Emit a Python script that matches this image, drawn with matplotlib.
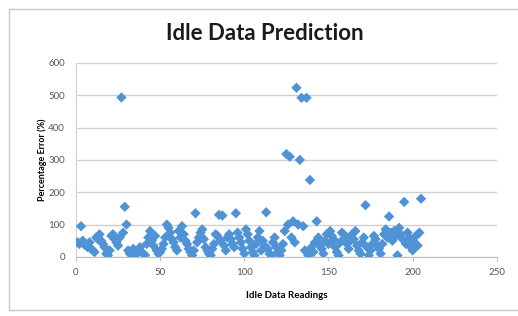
import matplotlib
matplotlib.use("Agg")
import matplotlib.pyplot as plt
from matplotlib.patches import Rectangle

# estimated readings (index -> percentage error)
readings = list(range(1, 206))
errors = [
    45, 40, 95, 50, 38, 35, 30, 45, 25, 20,
    15, 60, 55, 70, 50, 40, 30, 10, 5, 20,
    65, 70, 55, 45, 35, 60, 493, 75, 155, 100,
    20, 10, 15, 25, 5, 10, 20, 30, 15, 10,
    5, 40, 60, 80, 50, 35, 65, 20, 10, 15,
    25, 40, 60, 100, 90, 75, 55, 45, 30, 20,
    80, 60, 95, 70, 50, 40, 25, 15, 5, 20,
    135, 45, 60, 75, 85, 55, 30, 20, 10, 5,
    25, 40, 70, 65, 130, 50, 128, 35, 20, 60,
    70, 55, 40, 30, 135, 75, 60, 45, 25, 10,
    85, 70, 50, 30, 15, 5, 40, 60, 80, 20,
    50, 35, 138, 25, 10, 5, 45, 60, 30, 15,
    5, 20, 40, 80, 318, 100, 310, 60, 110, 45,
    523, 100, 300, 492, 95, 20, 492, 5, 238, 30,
    15, 45, 110, 60, 35, 25, 10, 50, 70, 40,
    80, 65, 55, 30, 15, 5, 45, 75, 70, 60,
    40, 25, 50, 70, 55, 80, 35, 20, 10, 45,
    60, 160, 30, 5, 20, 40, 65, 55, 35, 25,
    10, 40, 70, 85, 60, 125, 75, 50, 80, 65,
    5, 90, 70, 55, 170, 40, 75, 60, 30, 20,
    45, 65, 35, 75, 180,
]

x_ticks = [0, 50, 100, 150, 200, 250]
y_ticks = [0, 100, 200, 300, 400, 500, 600]

plt.rcParams['font.family'] = ['Lato', 'DejaVu Sans']

fig = plt.figure(figsize=(5.18, 3.16), dpi=100)

# chart frame like the spreadsheet chart area
fig.patches.append(Rectangle((9 / 518, 0.02), 1.2, 0.952, transform=fig.transFigure,
                             fill=False, edgecolor="#c8c8c8", linewidth=1.0))

ax = fig.add_axes([0.1467, 0.187, 0.8123, 0.614])
ax.scatter(readings, errors, marker="D", s=28, color="#4f93d6", edgecolors="none", zorder=3)

ax.set_xlim(0, 250)
ax.set_ylim(0, 600)
ax.set_xticks(x_ticks)
ax.set_yticks(y_ticks)
ax.yaxis.grid(True, color="#d0d0d0", linewidth=1.0)
ax.set_axisbelow(True)

for side in ["top", "right"]:
    ax.spines[side].set_visible(False)
ax.spines["left"].set_color("#d0d0d0")
ax.spines["bottom"].set_color("#c0c0c0")
ax.tick_params(axis="both", labelsize=7, colors="#555555", length=3, width=0.8)
ax.tick_params(axis="y", length=0, pad=8)
ax.tick_params(axis="x", color="#c0c0c0", pad=5)

ax.set_xlabel("Idle Data Readings", fontsize=7, fontweight="bold", labelpad=10)
ax.set_ylabel("Percentage Error (%)", fontsize=6.5, fontweight="bold", labelpad=1)
fig.text(0.512, 0.893, "Idle Data Prediction", ha="center", va="center",
         fontsize=16, fontweight="bold", color="#1a1a1a")

fig.savefig("out.png", dpi=100)
